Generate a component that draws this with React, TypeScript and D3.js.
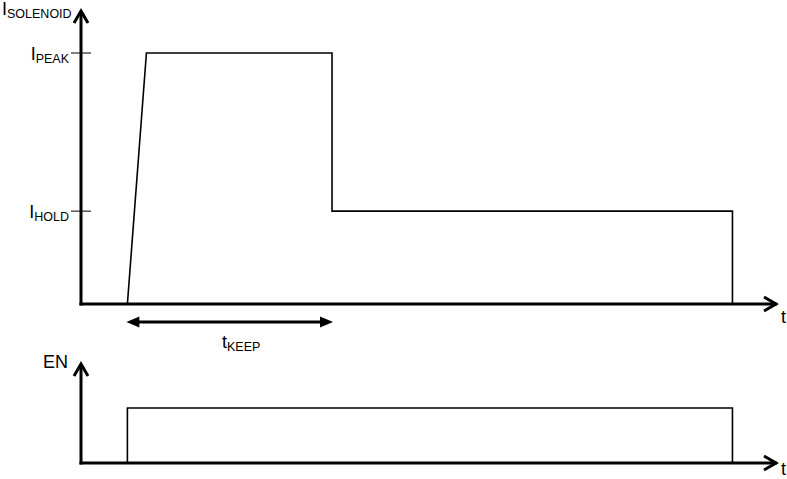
import React, { useEffect, useRef } from 'react';
import * as d3 from 'd3';

// solenoid current waveform: [time, current] (current normalised to I_PEAK = 1)
const currentTimes = [10, 14.1, 54.1, 54.1, 140.4, 140.4];
const currentValues = [0, 1, 1, 0.37, 0.37, 0];

// EN signal: [time, level]
const enTimes = [10, 10, 140.4, 140.4];
const enValues = [0, 1, 1, 0];

// level ticks on the current axis
const levelLabels = ['PEAK', 'HOLD'];
const levelValues = [1, 0.37];

// t_KEEP span
const keepSpan = [10, 54.1];

export default function App() {
    const svgRef = useRef<SVGSVGElement>(null);

    useEffect(() => {
        const svg = d3.select(svgRef.current);
        svg.selectAll('*').remove();

        const W = 787;
        const H = 479;
        svg.attr('width', W).attr('height', H);

        const font = '"Liberation Sans", Arial, sans-serif';

        // ---- Scales
        const x = d3.scaleLinear().domain([0, 150]).range([81, 777]);
        const yI = d3.scaleLinear().domain([0, 1]).range([304, 53]);
        const yEn = d3.scaleLinear().domain([0, 1]).range([463, 408]);

        const axis = (g, y0, yTop, tLabelDy) => {
            g.append('line')
                .attr('x1', x(0)).attr('x2', x(0))
                .attr('y1', y0 + 1.5).attr('y2', yTop + 1)
                .attr('stroke', '#000').attr('stroke-width', 3);
            g.append('line')
                .attr('x1', x(0) - 1.5).attr('x2', x(150))
                .attr('y1', y0).attr('y2', y0)
                .attr('stroke', '#000').attr('stroke-width', 3);
            // arrow chevrons
            g.append('path')
                .attr('d', `M${x(0) - 7},${yTop + 13} L${x(0)},${yTop + 1} L${x(0) + 7},${yTop + 13}`)
                .attr('fill', 'none').attr('stroke', '#000').attr('stroke-width', 3);
            g.append('path')
                .attr('d', `M${x(150) - 13},${y0 - 7} L${x(150) - 1},${y0} L${x(150) - 13},${y0 + 7}`)
                .attr('fill', 'none').attr('stroke', '#000').attr('stroke-width', 3);
            g.append('text')
                .attr('x', x(150) + 4).attr('y', y0 + tLabelDy)
                .style('font-family', font).style('font-size', '18px')
                .text('t');
        };

        const top = svg.append('g');
        const bottom = svg.append('g');
        axis(top, yI(0), 10, 19);
        axis(bottom, yEn(0), 363, 12);

        // ---- Labels with subscripts
        const sub = (g, xx, yy, main, s, anchorEnd = false) => {
            const t = g.append('text')
                .attr('x', xx).attr('y', yy)
                .attr('text-anchor', anchorEnd ? 'end' : 'start')
                .style('font-family', font).style('font-size', '18px');
            t.append('tspan').text(main);
            t.append('tspan').attr('dy', 3).style('font-size', '12.5px').text(s);
        };

        sub(top, 2, 15, 'I', 'SOLENOID');
        levelValues.forEach((v, i) => {
            top.append('line')
                .attr('x1', x(0) - 10).attr('x2', x(0) + 10)
                .attr('y1', yI(v)).attr('y2', yI(v))
                .attr('stroke', '#000').attr('stroke-width', 1);
            sub(top, 69, yI(v) + 7, 'I', levelLabels[i], true);
        });

        bottom.append('text')
            .attr('x', 68).attr('y', 368)
            .attr('text-anchor', 'end')
            .style('font-family', font).style('font-size', '18px')
            .text('EN');

        // ---- Waveforms
        const lineI = d3.line<number>()
            .x((_, i) => x(currentTimes[i]))
            .y(d => yI(d));
        top.append('path')
            .datum(currentValues)
            .attr('fill', 'none')
            .attr('stroke', '#000')
            .attr('stroke-width', 1.6)
            .attr('d', lineI);

        const lineEn = d3.line<number>()
            .x((_, i) => x(enTimes[i]))
            .y(d => yEn(d));
        bottom.append('path')
            .datum(enValues)
            .attr('fill', 'none')
            .attr('stroke', '#000')
            .attr('stroke-width', 1.6)
            .attr('d', lineEn);

        // ---- t_KEEP dimension arrow
        const ka = x(keepSpan[0]);
        const kb = x(keepSpan[1]);
        const ky = 322;
        top.append('line')
            .attr('x1', ka + 6).attr('x2', kb - 6)
            .attr('y1', ky).attr('y2', ky)
            .attr('stroke', '#000').attr('stroke-width', 3);
        top.append('path')
            .attr('d', `M${ka - 1},${ky} L${ka + 12},${ky - 5.5} L${ka + 12},${ky + 5.5} Z`)
            .attr('fill', '#000');
        top.append('path')
            .attr('d', `M${kb + 1},${ky} L${kb - 12},${ky - 5.5} L${kb - 12},${ky + 5.5} Z`)
            .attr('fill', '#000');
        sub(top, 222, 348, 't', 'KEEP');
    }, []);

    return (
        <div style={{ position: 'fixed', left: 0, top: 0, background: '#fff' }}>
            <svg ref={svgRef} style={{ display: 'block' }} />
        </div>
    );
}
